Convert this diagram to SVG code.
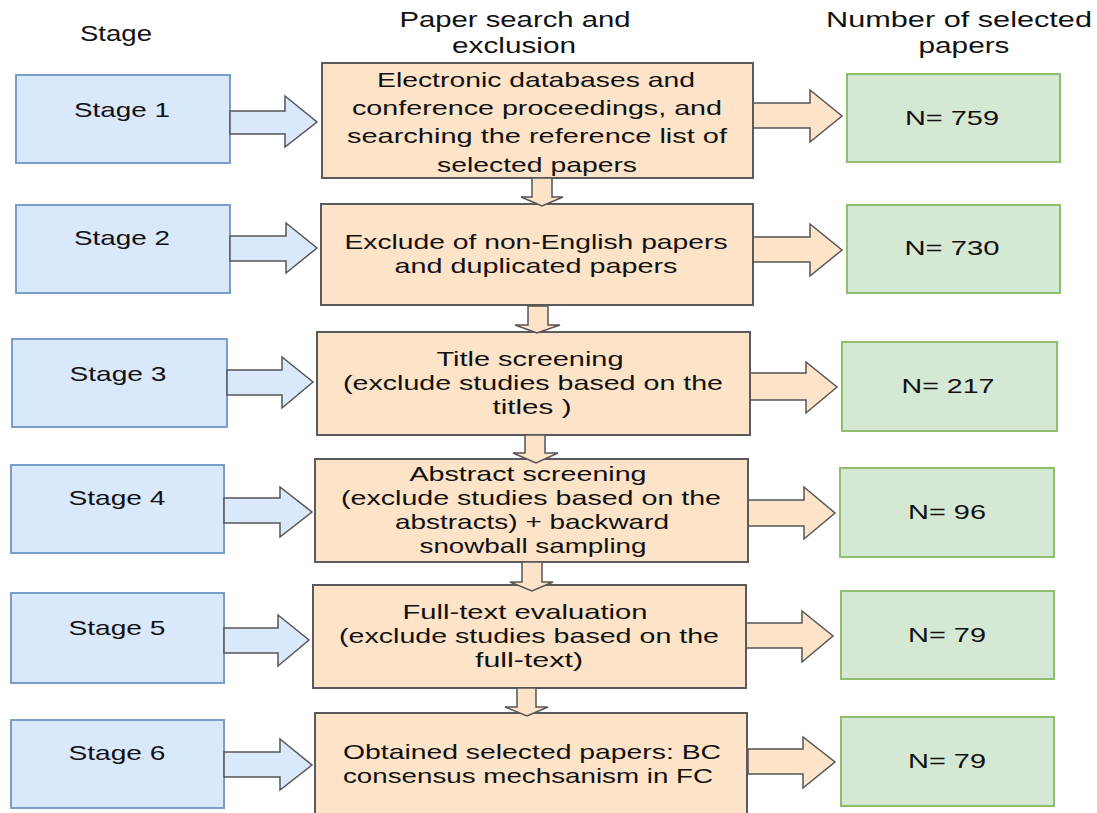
<svg xmlns="http://www.w3.org/2000/svg" width="1097" height="813" viewBox="0 0 1097 813">
<style>
text{font-family:"Liberation Sans",Arial,sans-serif;font-size:21px;fill:#111;text-anchor:middle}
.hd{font-size:22px}
.blue{fill:#dae8fc;stroke:#7b9dcc;stroke-width:2}
.orange{fill:#fde3c8;stroke:#5a5a5a;stroke-width:2}
.green{fill:#d5e8d4;stroke:#8fbf6e;stroke-width:2}
.ab{fill:#dae8fc;stroke:#555;stroke-width:1.5;stroke-linejoin:miter}
.ao{fill:#fde3c8;stroke:#555;stroke-width:1.5;stroke-linejoin:miter}
</style>
<rect width="1097" height="813" fill="#fff"/>
<g id="headers">
<text class="hd" x="116" y="41" textLength="72" lengthAdjust="spacingAndGlyphs">Stage</text>
<text class="hd" x="515" y="27" textLength="231" lengthAdjust="spacingAndGlyphs">Paper search and</text>
<text class="hd" x="514" y="53" textLength="124" lengthAdjust="spacingAndGlyphs">exclusion</text>
<text class="hd" x="959" y="27" textLength="266" lengthAdjust="spacingAndGlyphs">Number of selected</text>
<text class="hd" x="964" y="53" textLength="91" lengthAdjust="spacingAndGlyphs">papers</text>
</g>
<g id="stage1"><rect class="blue" x="16" y="75" width="214" height="88"/><text x="122" y="117" textLength="96" lengthAdjust="spacingAndGlyphs">Stage 1</text></g>
<g id="stage2"><rect class="blue" x="16" y="205" width="214" height="88"/><text x="122" y="245" textLength="96" lengthAdjust="spacingAndGlyphs">Stage 2</text></g>
<g id="stage3"><rect class="blue" x="12" y="339" width="215" height="88"/><text x="118" y="381" textLength="97" lengthAdjust="spacingAndGlyphs">Stage 3</text></g>
<g id="stage4"><rect class="blue" x="11" y="465" width="213" height="88"/><text x="117" y="505" textLength="97" lengthAdjust="spacingAndGlyphs">Stage 4</text></g>
<g id="stage5"><rect class="blue" x="11" y="593" width="213" height="90"/><text x="117" y="635" textLength="97" lengthAdjust="spacingAndGlyphs">Stage 5</text></g>
<g id="stage6"><rect class="blue" x="11" y="720" width="213" height="88"/><text x="117" y="760" textLength="97" lengthAdjust="spacingAndGlyphs">Stage 6</text></g>
<g id="connectors">
<polygon class="ab" points="230,111 285,111 285,96 317,122 285,147 285,134 230,134"/>
<polygon class="ab" points="230,236 286,236 286,223 317,248 286,273 286,261 230,261"/>
<polygon class="ab" points="227,370 282,370 282,357 313,382 282,408 282,395 227,395"/>
<polygon class="ab" points="224,498 280,498 280,487 312,512 280,537 280,523 224,523"/>
<polygon class="ab" points="224,628 278,628 278,615 309,640 278,666 278,653 224,653"/>
<polygon class="ab" points="224,752 280,752 280,739 312,765 280,790 280,777 224,777"/>
<polygon class="ao" points="753,103 810,103 810,90 842,116 810,142 810,128 753,128"/>
<polygon class="ao" points="753,237 810,237 810,224 842,250 810,276 810,262 753,262"/>
<polygon class="ao" points="750,373 806,373 806,362 837,387 806,413 806,400 750,400"/>
<polygon class="ao" points="748,500 804,500 804,487 835,513 804,539 804,526 748,526"/>
<polygon class="ao" points="746,623 802,623 802,611 833,636 802,662 802,648 746,648"/>
<polygon class="ao" points="748,749 803,749 803,737 835,762 803,788 803,774 748,774"/>
</g>
<g id="box1"><rect class="orange" x="322" y="63" width="431" height="115"/>
<text x="536" y="87" textLength="318" lengthAdjust="spacingAndGlyphs">Electronic databases and</text>
<text x="537" y="115" textLength="370" lengthAdjust="spacingAndGlyphs">conference proceedings, and</text>
<text x="537" y="143" textLength="380" lengthAdjust="spacingAndGlyphs">searching the reference list of</text>
<text x="537" y="172" textLength="200" lengthAdjust="spacingAndGlyphs">selected papers</text>
</g>
<g id="box2"><rect class="orange" x="321" y="204" width="432" height="101"/>
<text x="536" y="249" textLength="383" lengthAdjust="spacingAndGlyphs">Exclude of non-English papers</text>
<text x="536" y="273" textLength="283" lengthAdjust="spacingAndGlyphs">and duplicated papers</text>
</g>
<g id="box3"><rect class="orange" x="317" y="332" width="433" height="103"/>
<text x="530" y="366" textLength="187" lengthAdjust="spacingAndGlyphs">Title screening</text>
<text x="533" y="390" textLength="380" lengthAdjust="spacingAndGlyphs">(exclude studies based on the</text>
<text x="532" y="414" textLength="79" lengthAdjust="spacingAndGlyphs">titles )</text>
</g>
<g id="box4"><rect class="orange" x="315" y="459" width="433" height="103"/>
<text x="528" y="481" textLength="237" lengthAdjust="spacingAndGlyphs">Abstract screening</text>
<text x="531" y="505" textLength="380" lengthAdjust="spacingAndGlyphs">(exclude studies based on the</text>
<text x="532" y="529" textLength="274" lengthAdjust="spacingAndGlyphs">abstracts) + backward</text>
<text x="533" y="553" textLength="227" lengthAdjust="spacingAndGlyphs">snowball sampling</text>
</g>
<g id="box5"><rect class="orange" x="313" y="585" width="433" height="103"/>
<text x="525" y="619" textLength="245" lengthAdjust="spacingAndGlyphs">Full-text evaluation</text>
<text x="529" y="643" textLength="380" lengthAdjust="spacingAndGlyphs">(exclude studies based on the</text>
<text x="529" y="667" textLength="108" lengthAdjust="spacingAndGlyphs">full-text)</text>
</g>
<g id="box6"><rect class="orange" x="315" y="713" width="432" height="112"/>
<text x="532" y="759" textLength="378" lengthAdjust="spacingAndGlyphs">Obtained selected papers: BC</text>
<text x="528" y="783" textLength="370" lengthAdjust="spacingAndGlyphs">consensus mechsanism in FC</text>
</g>
<g id="downarrows">
<polygon class="ao" points="532,178 552,178 552,197 563,197 542,206 521,197 532,197"/>
<polygon class="ao" points="528,306 548,306 548,325 560,325 537,333 515,325 528,325"/>
<polygon class="ao" points="525,435 545,435 545,453 558,453 536,463 513,453 525,453"/>
<polygon class="ao" points="522,562 542,562 542,582 553,582 532,591 510,582 522,582"/>
<polygon class="ao" points="517,688 536,688 536,707 548,707 527,716 505,707 517,707"/>
</g>
<g id="n1"><rect class="green" x="847" y="74" width="213" height="88"/><text x="952" y="125" textLength="94" lengthAdjust="spacingAndGlyphs">N= 759</text></g>
<g id="n2"><rect class="green" x="847" y="205" width="213" height="88"/><text x="952" y="255" textLength="95" lengthAdjust="spacingAndGlyphs">N= 730</text></g>
<g id="n3"><rect class="green" x="842" y="342" width="215" height="89"/><text x="948" y="393" textLength="93" lengthAdjust="spacingAndGlyphs">N= 217</text></g>
<g id="n4"><rect class="green" x="840" y="468" width="214" height="89"/><text x="947" y="519" textLength="78" lengthAdjust="spacingAndGlyphs">N= 96</text></g>
<g id="n5"><rect class="green" x="841" y="591" width="213" height="88"/><text x="947" y="642" textLength="78" lengthAdjust="spacingAndGlyphs">N= 79</text></g>
<g id="n6"><rect class="green" x="841" y="717" width="213" height="89"/><text x="947" y="768" textLength="78" lengthAdjust="spacingAndGlyphs">N= 79</text></g>
</svg>
